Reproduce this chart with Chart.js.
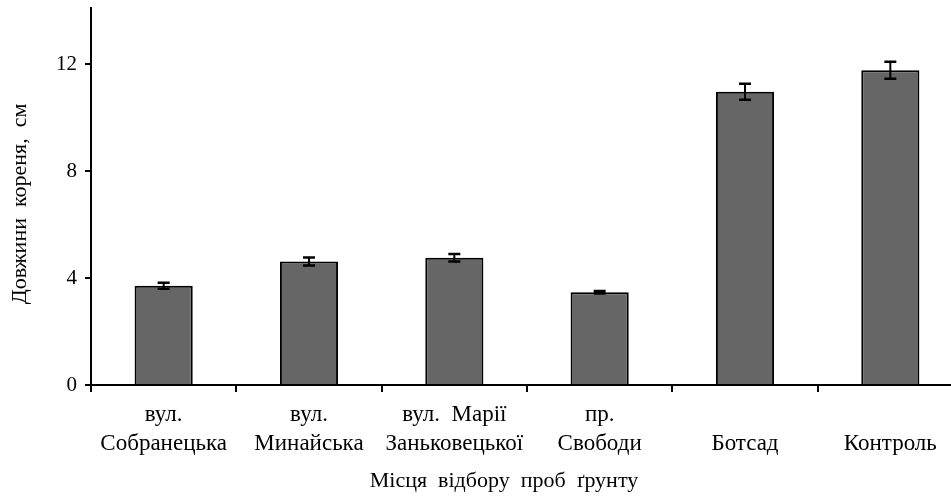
<!DOCTYPE html>
<html>
<head>
<meta charset="utf-8">
<script src="https://cdn.jsdelivr.net/npm/chart.js@4"></script>
<style>
  html, body { margin: 0; padding: 0; background: #fff; overflow: hidden; }
  #wrap { width: 963px; height: 500px; }
</style>
</head>
<body>
<div id="wrap"><canvas id="c"></canvas></div>
<script>
// дані з рисунка
const categories = [
  ['вул.', 'Собранецька'],
  ['вул.', 'Минайська'],
  ['вул.  Марії', 'Заньковецької'],
  ['пр.', 'Свободи'],
  ['', 'Ботсад'],
  ['', 'Контроль']
];
const rootLength = [3.71, 4.62, 4.76, 3.47, 10.97, 11.77];
const rootError = [0.11, 0.15, 0.14, 0.05, 0.3, 0.32];
const yTicks = [0, 4, 8, 12];

const serif = '"Liberation Serif", "Times New Roman", serif';

// вуса похибки
const errorBars = {
  id: 'errorBars',
  afterDatasetsDraw(chart) {
    const { ctx } = chart;
    const y = chart.scales.y;
    const meta = chart.getDatasetMeta(0);
    ctx.save();
    ctx.strokeStyle = '#000';
    meta.data.forEach((bar, i) => {
      const v = rootLength[i], e = rootError[i];
      const yt = y.getPixelForValue(v + e);
      const yb = y.getPixelForValue(v - e);
      ctx.lineWidth = 2;
      ctx.beginPath();
      ctx.moveTo(bar.x, yt); ctx.lineTo(bar.x, yb);
      ctx.stroke();
      ctx.lineWidth = 2.5;
      ctx.beginPath();
      ctx.moveTo(bar.x - 6, yt); ctx.lineTo(bar.x + 6, yt);
      ctx.moveTo(bar.x - 6, yb); ctx.lineTo(bar.x + 6, yb);
      ctx.stroke();
    });
    ctx.restore();
  }
};

// підписи осей
const axisTitles = {
  id: 'axisTitles',
  afterDraw(chart) {
    const { ctx } = chart;
    ctx.save();
    ctx.fillStyle = '#000';
    ctx.font = '22px ' + serif;
    ctx.textAlign = 'center';
    ctx.textBaseline = 'middle';
    ctx.fillText('Місця  відбору  проб  ґрунту', 504, 481);
    ctx.translate(20, 204);
    ctx.rotate(-Math.PI / 2);
    ctx.fillText('Довжини  кореня,  см', 0, 0);
    ctx.restore();
  }
};

new Chart(document.getElementById('c'), {
  type: 'bar',
  data: {
    labels: categories,
    datasets: [{
      data: rootLength,
      backgroundColor: '#666666',
      borderColor: '#000',
      borderWidth: 2,
      barPercentage: 0.4,
      categoryPercentage: 1
    }]
  },
  options: {
    responsive: true,
    maintainAspectRatio: false,
    animation: false,
    layout: { padding: { top: 8, right: 0, left: 0, bottom: 0 } },
    plugins: { legend: { display: false }, tooltip: { enabled: false } },
    scales: {
      x: {
        offset: true,
        afterFit: (s) => { s.height = 115; },
        border: { color: '#000', width: 2 },
        grid: { display: true, offset: true, drawOnChartArea: false, color: '#000', lineWidth: 2, tickLength: 7 },
        ticks: { color: '#000', font: { family: serif, size: 23, lineHeight: 1.27 }, padding: 8, maxRotation: 0, autoSkip: false }
      },
      y: {
        min: 0,
        max: 14.1,
        afterFit: (s) => { s.width = 91; s.paddingTop = 0; },
        afterBuildTicks: (s) => { s.ticks = yTicks.map(v => ({ value: v })); },
        border: { color: '#000', width: 2 },
        grid: { drawOnChartArea: false, color: '#000', lineWidth: 2, tickLength: 6 },
        ticks: { color: '#000', font: { family: serif, size: 21 }, padding: 8 }
      }
    }
  },
  plugins: [errorBars, axisTitles]
});
</script>
</body>
</html>
